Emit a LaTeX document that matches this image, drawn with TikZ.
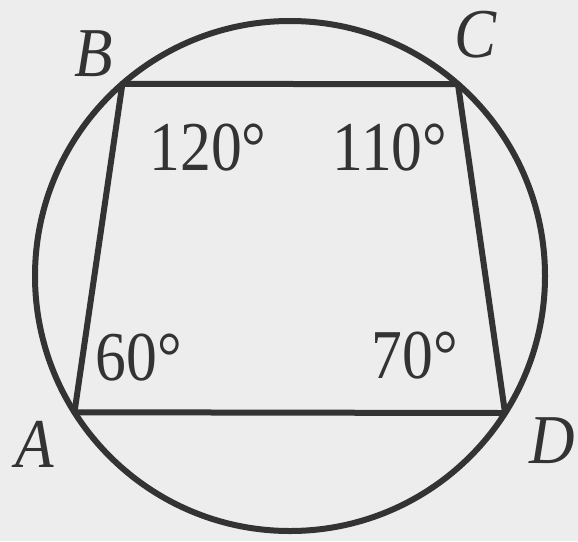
\documentclass[tikz,border=0pt]{standalone}
\usepackage{fontspec}
\setmainfont{Liberation Serif}
\begin{document}
\begin{tikzpicture}[x=1pt, y=-1pt, line width=6pt, line join=round, color=black!80]

    % Styles for the vertex names and the angle values
    \tikzset{vtx/.style={inner sep=0pt, anchor=base, xscale=0.9, font=\fontsize{70}{70}\selectfont\itshape}}
    \tikzset{ang/.style={inner sep=0pt, anchor=base, xscale=0.88, font=\fontsize{70}{70}\selectfont}}

    % Centre and radius of the circle
    \def\cx{290}
    \def\cy{276}
    \def\rad{255}

    % Paper background, fixes the size too
    \fill[black!7] (0,0) rectangle (578,541);
    \useasboundingbox (0,0) rectangle (578,541);

    \coordinate (O) at (\cx,\cy);

    % Vertices on the circle (angles measured downwards)
    \coordinate (A) at ([shift={(147.7:\rad)}]O);
    \coordinate (B) at ([shift={(228.9:\rad)}]O);
    \coordinate (C) at ([shift={(311.2:\rad)}]O);
    \coordinate (D) at ([shift={(32.5:\rad)}]O);

    % --- Circle and quadrilateral ---
    \draw (O) circle[radius=\rad pt];
    \draw (A) -- (B) -- (C) -- (D) -- cycle;

    % --- Vertex names ---
    \node[vtx] (lA) at (35,467) {A};
    \node[vtx] (lB) at (94,76) {B};
    \node[vtx] (lC) at (476,57) {C};
    \node[vtx] (lD) at (552,463) {D};

    % --- Angle values ---
    \node[ang] (aB) at (208,170) {120°};
    \node[ang] (aC) at (390,170) {110°};
    \node[ang] (aA) at (139,380) {60°};
    \node[ang] (aD) at (415,378) {70°};
\end{tikzpicture}
\end{document}
